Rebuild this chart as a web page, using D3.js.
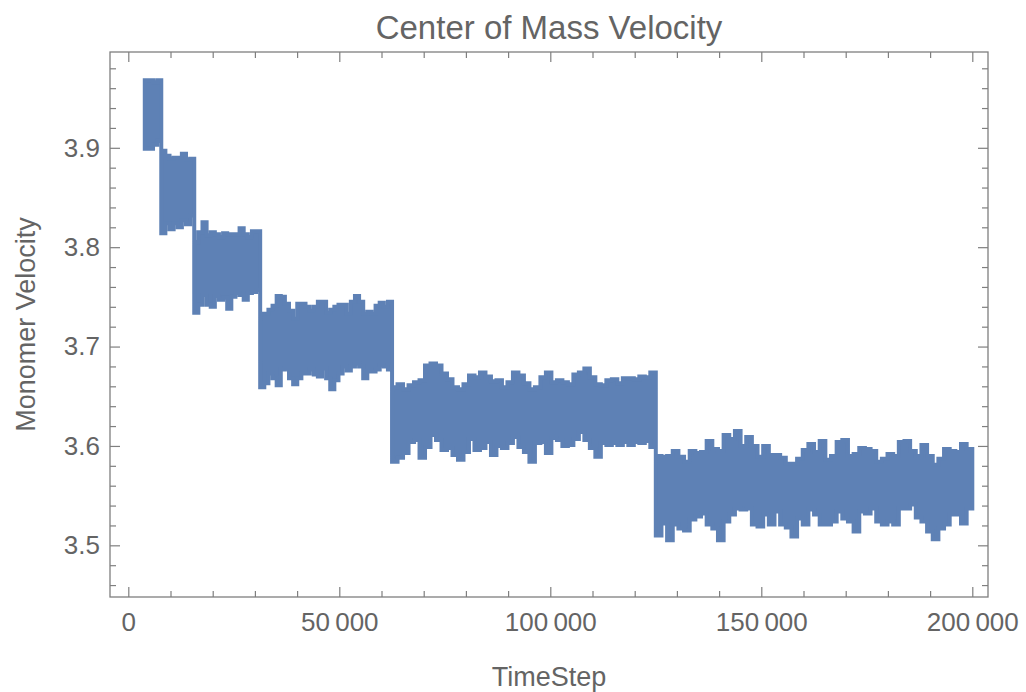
<!DOCTYPE html>
<html>
<head>
<meta charset="utf-8">
<script src="https://cdn.jsdelivr.net/npm/d3@7"></script>
<style>
  html, body { margin: 0; padding: 0; background: #fff; }
  svg text { font-family: "Liberation Sans", Arial, sans-serif; fill: #646464; }
</style>
</head>
<body>
<div id="chart"></div>
<script>
// segment boundaries (time steps) and envelope of the velocity trace in each
const segmentBounds = [3906, 7812, 15625, 31250, 62500, 125000, 200000];

const seg1Upper = [3.968, 3.968, 3.966, 3.968];
const seg1Lower = [3.899, 3.899, 3.903, 3.907];

const seg2Upper = [3.897, 3.892, 3.889, 3.890, 3.890, 3.894, 3.888, 3.889];
const seg2Lower = [3.814, 3.824, 3.818, 3.824, 3.820, 3.827, 3.823, 3.832];

const seg3Upper = [3.805, 3.815, 3.825, 3.812, 3.815, 3.813, 3.810, 3.814,
                   3.813, 3.813, 3.813, 3.819, 3.813, 3.810, 3.816, 3.816];
const seg3Lower = [3.734, 3.742, 3.752, 3.742, 3.740, 3.751, 3.747, 3.749,
                   3.738, 3.750, 3.754, 3.752, 3.747, 3.754, 3.755, 3.757];

const seg4Upper = [3.733, 3.733, 3.737, 3.741, 3.751, 3.750, 3.743, 3.736,
                   3.728, 3.743, 3.743, 3.740, 3.736, 3.740, 3.745, 3.745,
                   3.734, 3.737, 3.740, 3.742, 3.742, 3.733, 3.745, 3.751,
                   3.745, 3.733, 3.735, 3.733, 3.741, 3.744, 3.740, 3.745];
const seg4Lower = [3.659, 3.663, 3.673, 3.668, 3.661, 3.677, 3.678, 3.668,
                   3.662, 3.668, 3.673, 3.673, 3.677, 3.672, 3.670, 3.678,
                   3.668, 3.657, 3.666, 3.673, 3.680, 3.676, 3.680, 3.683,
                   3.680, 3.668, 3.675, 3.675, 3.677, 3.681, 3.680, 3.677];

const seg5Upper = [3.659, 3.662, 3.657, 3.661, 3.664, 3.666, 3.681, 3.683,
                   3.681, 3.673, 3.667, 3.659, 3.657, 3.662, 3.671, 3.669,
                   3.674, 3.670, 3.665, 3.666, 3.659, 3.664, 3.674, 3.671,
                   3.663, 3.657, 3.659, 3.669, 3.674, 3.664, 3.666, 3.664,
                   3.662, 3.672, 3.674, 3.678, 3.669, 3.662, 3.661, 3.666,
                   3.667, 3.663, 3.668, 3.668, 3.667, 3.670, 3.669, 3.674];
const seg5Lower = [3.584, 3.588, 3.593, 3.604, 3.606, 3.588, 3.599, 3.611,
                   3.606, 3.596, 3.598, 3.591, 3.586, 3.594, 3.607, 3.596,
                   3.598, 3.604, 3.591, 3.600, 3.598, 3.603, 3.609, 3.599,
                   3.594, 3.584, 3.603, 3.604, 3.593, 3.608, 3.606, 3.600,
                   3.601, 3.607, 3.614, 3.606, 3.598, 3.589, 3.603, 3.601,
                   3.603, 3.601, 3.604, 3.601, 3.604, 3.603, 3.605, 3.599];

const seg6Upper = [3.590, 3.589, 3.590, 3.595, 3.589, 3.584, 3.595, 3.593,
                   3.594, 3.605, 3.597, 3.595, 3.611, 3.607, 3.615, 3.600,
                   3.609, 3.600, 3.589, 3.600, 3.591, 3.591, 3.588, 3.582,
                   3.582, 3.587, 3.596, 3.602, 3.594, 3.605, 3.586, 3.590,
                   3.604, 3.606, 3.590, 3.592, 3.598, 3.597, 3.595, 3.584,
                   3.587, 3.592, 3.590, 3.604, 3.605, 3.595, 3.590, 3.601,
                   3.590, 3.581, 3.587, 3.597, 3.595, 3.594, 3.602, 3.597];
const seg6Lower = [3.510, 3.522, 3.505, 3.521, 3.517, 3.515, 3.526, 3.529,
                   3.532, 3.521, 3.517, 3.505, 3.524, 3.531, 3.537, 3.536,
                   3.537, 3.521, 3.519, 3.531, 3.521, 3.534, 3.521, 3.518,
                   3.509, 3.527, 3.521, 3.536, 3.531, 3.521, 3.521, 3.524,
                   3.534, 3.527, 3.524, 3.514, 3.534, 3.532, 3.537, 3.524,
                   3.521, 3.524, 3.521, 3.537, 3.537, 3.541, 3.528, 3.524,
                   3.514, 3.506, 3.517, 3.521, 3.531, 3.531, 3.522, 3.537];

const uppers = [seg1Upper, seg2Upper, seg3Upper, seg4Upper, seg5Upper, seg6Upper];
const lowers = [seg1Lower, seg2Lower, seg3Lower, seg4Lower, seg5Lower, seg6Lower];

const xTickValues = [0, 50000, 100000, 150000, 200000];
const xTickLabels = ["0", "50\u2009000", "100\u2009000", "150\u2009000", "200\u2009000"];
const yTickValues = [3.5, 3.6, 3.7, 3.8, 3.9];
const yTickLabels = ["3.5", "3.6", "3.7", "3.8", "3.9"];

const title = "Center of Mass Velocity";
const xTitle = "TimeStep";
const yTitle = "Monomer Velocity";

const W = 1026, H = 692;
const frame = { left: 110, right: 988, top: 52, bottom: 597 };
const color = "#5e81b5";
const frameColor = "#7f7f7f";

// build the envelope points, one block per segment
const points = [];
uppers.forEach((up, k) => {
  const s = segmentBounds[k], e = segmentBounds[k + 1];
  up.forEach((u, i) => {
    points.push({ t: s + i * (e - s) / up.length, hi: u, lo: lowers[k][i] });
  });
});
const last = points[points.length - 1];
points.push({ t: segmentBounds[segmentBounds.length - 1], hi: last.hi, lo: last.lo });

const svg = d3.select("#chart").append("svg")
  .attr("width", W)
  .attr("height", H);

const x = d3.scaleLinear().domain([-4337, 203720]).range([frame.left, frame.right]);
const y = d3.scaleLinear().domain([3.448, 3.9964]).range([frame.bottom, frame.top]);

// the trace
const area = d3.area()
  .curve(d3.curveStepAfter)
  .x(d => x(d.t))
  .y0(d => y(d.lo))
  .y1(d => y(d.hi));

svg.append("path")
  .datum(points)
  .attr("d", area)
  .attr("fill", color)
  .attr("stroke", color)
  .attr("stroke-width", 4);

// ticks, all pointing inward
const xMinor = d3.range(0, 200001, 10000).filter(v => !xTickValues.includes(v));
const yMinor = d3.range(3.46, 3.981, 0.02).filter(v => !yTickValues.some(t => Math.abs(t - v) < 1e-6));

function styleAxis(g) {
  g.select(".domain").remove();
  g.selectAll("line").attr("stroke", frameColor).attr("stroke-width", 1.2);
  g.selectAll("text").attr("font-size", 26).attr("fill", "#646464");
}

svg.append("g")
  .attr("transform", `translate(0,${frame.bottom})`)
  .call(d3.axisBottom(x).tickValues(xMinor).tickSize(-6).tickFormat(""))
  .call(styleAxis);
svg.append("g")
  .attr("transform", `translate(0,${frame.bottom})`)
  .call(d3.axisBottom(x).tickValues(xTickValues).tickSize(-10).tickPadding(16)
    .tickFormat((d, i) => xTickLabels[i]))
  .call(styleAxis);

svg.append("g")
  .attr("transform", `translate(0,${frame.top})`)
  .call(d3.axisTop(x).tickValues(xMinor).tickSize(-6).tickFormat(""))
  .call(styleAxis);
svg.append("g")
  .attr("transform", `translate(0,${frame.top})`)
  .call(d3.axisTop(x).tickValues(xTickValues).tickSize(-10).tickFormat(""))
  .call(styleAxis);

svg.append("g")
  .attr("transform", `translate(${frame.left},0)`)
  .call(d3.axisLeft(y).tickValues(yMinor).tickSize(-6).tickFormat(""))
  .call(styleAxis);
svg.append("g")
  .attr("transform", `translate(${frame.left},0)`)
  .call(d3.axisLeft(y).tickValues(yTickValues).tickSize(-10).tickPadding(10)
    .tickFormat((d, i) => yTickLabels[i]))
  .call(styleAxis);

svg.append("g")
  .attr("transform", `translate(${frame.right},0)`)
  .call(d3.axisRight(y).tickValues(yMinor).tickSize(-6).tickFormat(""))
  .call(styleAxis);
svg.append("g")
  .attr("transform", `translate(${frame.right},0)`)
  .call(d3.axisRight(y).tickValues(yTickValues).tickSize(-10).tickFormat(""))
  .call(styleAxis);

// frame
svg.append("rect")
  .attr("x", frame.left)
  .attr("y", frame.top)
  .attr("width", frame.right - frame.left)
  .attr("height", frame.bottom - frame.top)
  .attr("fill", "none")
  .attr("stroke", frameColor)
  .attr("stroke-width", 1.3);

// titles
const cx = (frame.left + frame.right) / 2;
svg.append("text")
  .attr("x", cx)
  .attr("y", 39)
  .attr("text-anchor", "middle")
  .attr("font-size", 33)
  .text(title);

svg.append("text")
  .attr("x", cx)
  .attr("y", 686)
  .attr("text-anchor", "middle")
  .attr("font-size", 27)
  .text(xTitle);

svg.append("text")
  .attr("transform", `translate(35,${(frame.top + frame.bottom) / 2}) rotate(-90)`)
  .attr("text-anchor", "middle")
  .attr("font-size", 27)
  .text(yTitle);
</script>
</body>
</html>
